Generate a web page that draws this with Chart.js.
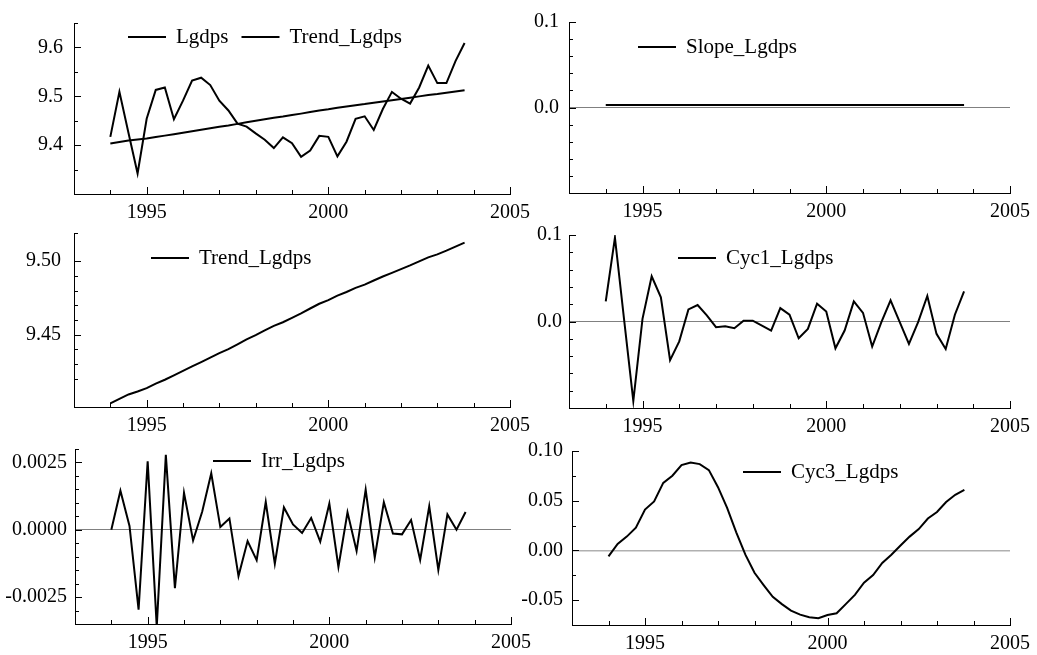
<!DOCTYPE html>
<html>
<head>
<meta charset="utf-8">
<script src="https://cdn.jsdelivr.net/npm/chart.js@4.4.1/dist/chart.umd.min.js"></script>
<style>
  body { margin: 0; background: #fff; }
  #wrap { position: relative; width: 1037px; height: 655px; }
  #wrap canvas { position: absolute; left: 0; top: 0; }
</style>
</head>
<body>
<div id="wrap">
  <canvas id="c1" width="1037" height="655"></canvas>
  <canvas id="c2" width="1037" height="655"></canvas>
  <canvas id="c3" width="1037" height="655"></canvas>
  <canvas id="c4" width="1037" height="655"></canvas>
  <canvas id="c5" width="1037" height="655"></canvas>
  <canvas id="c6" width="1037" height="655"></canvas>
</div>
<script>
// quarterly dates, 1994Q1 .. 2003Q4
const quarters = [
  1994, 1994.25, 1994.5, 1994.75, 1995, 1995.25, 1995.5, 1995.75,
  1996, 1996.25, 1996.5, 1996.75, 1997, 1997.25, 1997.5, 1997.75,
  1998, 1998.25, 1998.5, 1998.75, 1999, 1999.25, 1999.5, 1999.75,
  2000, 2000.25, 2000.5, 2000.75, 2001, 2001.25, 2001.5, 2001.75,
  2002, 2002.25, 2002.5, 2002.75, 2003, 2003.25, 2003.5, 2003.75
];

const lgdps = [
  9.417, 9.509, 9.425, 9.342, 9.454, 9.513, 9.518, 9.453,
  9.491, 9.532, 9.538, 9.523, 9.491, 9.471, 9.444, 9.438,
  9.424, 9.411, 9.394, 9.416, 9.404, 9.376, 9.389, 9.419,
  9.417, 9.377, 9.407, 9.454, 9.459, 9.431, 9.474, 9.509,
  9.495, 9.485, 9.518, 9.563, 9.527, 9.527, 9.572, 9.609
];

const trendLgdps = [
  9.4034, 9.4065, 9.4095, 9.4115, 9.4138, 9.4168, 9.4195, 9.4225,
  9.4255, 9.4285, 9.4315, 9.4345, 9.4375, 9.4402, 9.4435, 9.4468,
  9.4498, 9.4530, 9.4560, 9.4585, 9.4615, 9.4645, 9.4678, 9.4710,
  9.4735, 9.4765, 9.4790, 9.4818, 9.4840, 9.4868, 9.4895, 9.4920,
  9.4945, 9.4970, 9.4998, 9.5025, 9.5045, 9.5070, 9.5098, 9.5125
];

const slopeLgdps = [
  0.0028, 0.0028, 0.0028, 0.0028, 0.0028, 0.0028, 0.0028, 0.0028,
  0.0028, 0.0028, 0.0028, 0.0028, 0.0028, 0.0028, 0.0028, 0.0028,
  0.0028, 0.0028, 0.0028, 0.0028, 0.0028, 0.0028, 0.0028, 0.0028,
  0.0028, 0.0028, 0.0028, 0.0028, 0.0028, 0.0028, 0.0028, 0.0028,
  0.0028, 0.0028, 0.0028, 0.0028, 0.0028, 0.0028, 0.0028, 0.0028
];

const cyc1Lgdps = [
  0.0233, 0.0969, 0.002, -0.0919, 0.003, 0.0523, 0.028, -0.0446,
  -0.023, 0.014, 0.019, 0.007, -0.0066, -0.0054, -0.0078, 0.001,
  0.001, -0.0047, -0.0105, 0.0155, 0.0078, -0.0194, -0.0085, 0.0205,
  0.0116, -0.031, -0.0105, 0.0233, 0.010, -0.029, -0.0008, 0.0244,
  -0.0008, -0.026, -0.0008, 0.0295, -0.0143, -0.0318, 0.0078, 0.0349
];

const irrLgdps = [
  0, 0.00145, 0.00014, -0.00297, 0.00254, -0.0036, 0.00278, -0.00217,
  0.00137, -0.0004, 0.00067, 0.0021, 0.0001, 0.00042, -0.00172, -0.00042,
  -0.00113, 0.00103, -0.00126, 0.00083, 0.0002, -0.00012, 0.00044, -0.00044,
  0.00097, -0.00138, 0.00065, -0.00079, 0.00149, -0.00103, 0.00102, -0.00014,
  -0.00017, 0.00036, -0.00112, 0.00087, -0.00149, 0.00057, 0, 0.00066
];

const cyc3Lgdps = [
  -0.006, 0.0066, 0.0139, 0.0228, 0.0411, 0.0493, 0.0679, 0.0752,
  0.0858, 0.0884, 0.0868, 0.0808, 0.0636, 0.0427, 0.0182, -0.0043,
  -0.0225, -0.0348, -0.0467, -0.054, -0.0606, -0.0646, -0.0672, -0.0682,
  -0.0649, -0.0632, -0.054, -0.0447, -0.0325, -0.0248, -0.0126, -0.0043,
  0.005, 0.0139, 0.0215, 0.0321, 0.0387, 0.0487, 0.056, 0.0609
];

// x axis: years, labels every 5
const xMin = 1993;
const xMax = 2005;
const xLabelEvery = 5;

const FONT = "'Liberation Serif', 'Times New Roman', serif";
Chart.defaults.font.family = FONT;
Chart.defaults.font.size = 20;
Chart.defaults.color = "#000";

const W = 1037, H = 655, X_AXIS_H = 30;

function isMult(v, step) {
  const r = v / step;
  return Math.abs(r - Math.round(r)) < 1e-6;
}

// tick marks point into the plot, longer at labelled ticks
const innerTicks = {
  id: "innerTicks",
  afterDraw(chart) {
    const ctx = chart.ctx;
    ctx.save();
    ctx.strokeStyle = "#000";
    ctx.lineWidth = 1;
    Object.values(chart.scales).forEach((s) => {
      s.ticks.forEach((t) => {
        const len = t.label ? 7 : 4;
        const p = Math.round(s.getPixelForValue(t.value)) + 0.5;
        ctx.beginPath();
        if (s.isHorizontal()) {
          ctx.moveTo(p, s.top);
          ctx.lineTo(p, s.top - len);
        } else {
          ctx.moveTo(s.right, p);
          ctx.lineTo(s.right + len, p);
        }
        ctx.stroke();
      });
    });
    ctx.restore();
  },
};

// legend drawn inside the plot: short line sample then the series name
const insideLegend = {
  id: "insideLegend",
  afterDraw(chart, args, opts) {
    const ctx = chart.ctx;
    let x = opts.x;
    const y = opts.y;
    ctx.save();
    ctx.font = "21px " + FONT;
    ctx.textBaseline = "middle";
    ctx.textAlign = "left";
    chart.data.datasets.forEach((ds) => {
      ctx.strokeStyle = ds.borderColor;
      ctx.lineWidth = ds.borderWidth;
      ctx.beginPath();
      ctx.moveTo(x, y);
      ctx.lineTo(x + 38, y);
      ctx.stroke();
      ctx.fillStyle = "#000";
      ctx.fillText(ds.label, x + 48, y);
      x += 48 + ctx.measureText(ds.label).width + 13;
    });
    ctx.restore();
  },
};

function line(label, values) {
  return {
    label: label,
    data: quarters.map((q, i) => ({ x: q, y: values[i] })),
    borderColor: "#000",
    backgroundColor: "#000",
    borderWidth: 2,
    pointRadius: 0,
    tension: 0,
    fill: false,
  };
}

function makePanel(id, p) {
  const ctx = document.getElementById(id).getContext("2d");
  return new Chart(ctx, {
    type: "line",
    data: { datasets: p.datasets },
    plugins: [innerTicks, insideLegend],
    options: {
      responsive: false,
      animation: false,
      devicePixelRatio: 1,
      layout: {
        padding: { left: 0, top: p.area.t, right: W - p.area.r, bottom: H - p.area.b - X_AXIS_H },
      },
      scales: {
        x: {
          type: "linear",
          min: xMin,
          max: xMax,
          afterFit: (s) => { s.height = X_AXIS_H; },
          grid: { display: false, drawTicks: false },
          border: { display: true, color: "#000", width: 1 },
          ticks: {
            stepSize: 1,
            autoSkip: false,
            maxRotation: 0,
            padding: 7,
            callback: (v) => (isMult(v, xLabelEvery) ? String(Math.round(v)) : ""),
          },
        },
        y: {
          type: "linear",
          min: p.yMin,
          max: p.yMax,
          afterFit: (s) => { s.width = p.area.l; },
          grid: {
            display: true,
            drawTicks: false,
            lineWidth: p.zeroWidth || 1,
            color: (c) => (p.zeroLine && c.tick && Math.abs(c.tick.value) < 1e-9 ? p.zeroLine : "rgba(0,0,0,0)"),
          },
          border: { display: true, color: "#000", width: 1 },
          ticks: {
            stepSize: p.yStep,
            autoSkip: false,
            padding: p.yPad,
            callback: (v) => {
              if (Math.abs(v - p.yMin) < 1e-9) return "";
              if (!isMult(v, p.yLabelEvery)) return "";
              if (Math.abs(v) < 1e-12) v = 0;
              return v.toFixed(p.yDec);
            },
          },
        },
      },
      plugins: {
        tooltip: { enabled: false },
        legend: { display: false },
        insideLegend: { x: p.legend[0], y: p.legend[1] },
      },
    },
  });
}

makePanel("c1", {
  area: { l: 74, r: 510, t: 21, b: 194 },
  yMin: 9.3, yMax: 9.65, yStep: 0.05, yLabelEvery: 0.1, yDec: 1, yPad: 11,
  legend: [128, 37],
  datasets: [line("Lgdps", lgdps), line("Trend_Lgdps", trendLgdps)],
});

makePanel("c2", {
  area: { l: 569, r: 1011, t: 17, b: 193 },
  yMin: -0.1, yMax: 0.1, yStep: 0.02, yLabelEvery: 0.1, yDec: 1, yPad: 10,
  zeroLine: "#808080",
  legend: [638, 47],
  datasets: [line("Slope_Lgdps", slopeLgdps)],
});

makePanel("c3", {
  area: { l: 74, r: 510, t: 233, b: 407 },
  yMin: 9.401, yMax: 9.519, yStep: 0.01, yLabelEvery: 0.05, yDec: 2, yPad: 13,
  legend: [151, 258],
  datasets: [line("Trend_Lgdps", trendLgdps)],
});

makePanel("c4", {
  area: { l: 569, r: 1011, t: 235, b: 408 },
  yMin: -0.1, yMax: 0.1, yStep: 0.02, yLabelEvery: 0.1, yDec: 1, yPad: 7,
  zeroLine: "#808080",
  legend: [678, 258],
  datasets: [line("Cyc1_Lgdps", cyc1Lgdps)],
});

makePanel("c5", {
  area: { l: 75, r: 511, t: 449, b: 624 },
  yMin: -0.0035, yMax: 0.003, yStep: 0.0005, yLabelEvery: 0.0025, yDec: 4, yPad: 8,
  zeroLine: "#808080",
  legend: [213, 461],
  datasets: [line("Irr_Lgdps", irrLgdps)],
});

makePanel("c6", {
  area: { l: 572, r: 1014, t: 451, b: 625 },
  yMin: -0.075, yMax: 0.1, yStep: 0.025, yLabelEvery: 0.05, yDec: 2, yPad: 9,
  zeroLine: "#b0b0b0", zeroWidth: 1.5,
  legend: [743, 472],
  datasets: [line("Cyc3_Lgdps", cyc3Lgdps)],
});
</script>
</body>
</html>
